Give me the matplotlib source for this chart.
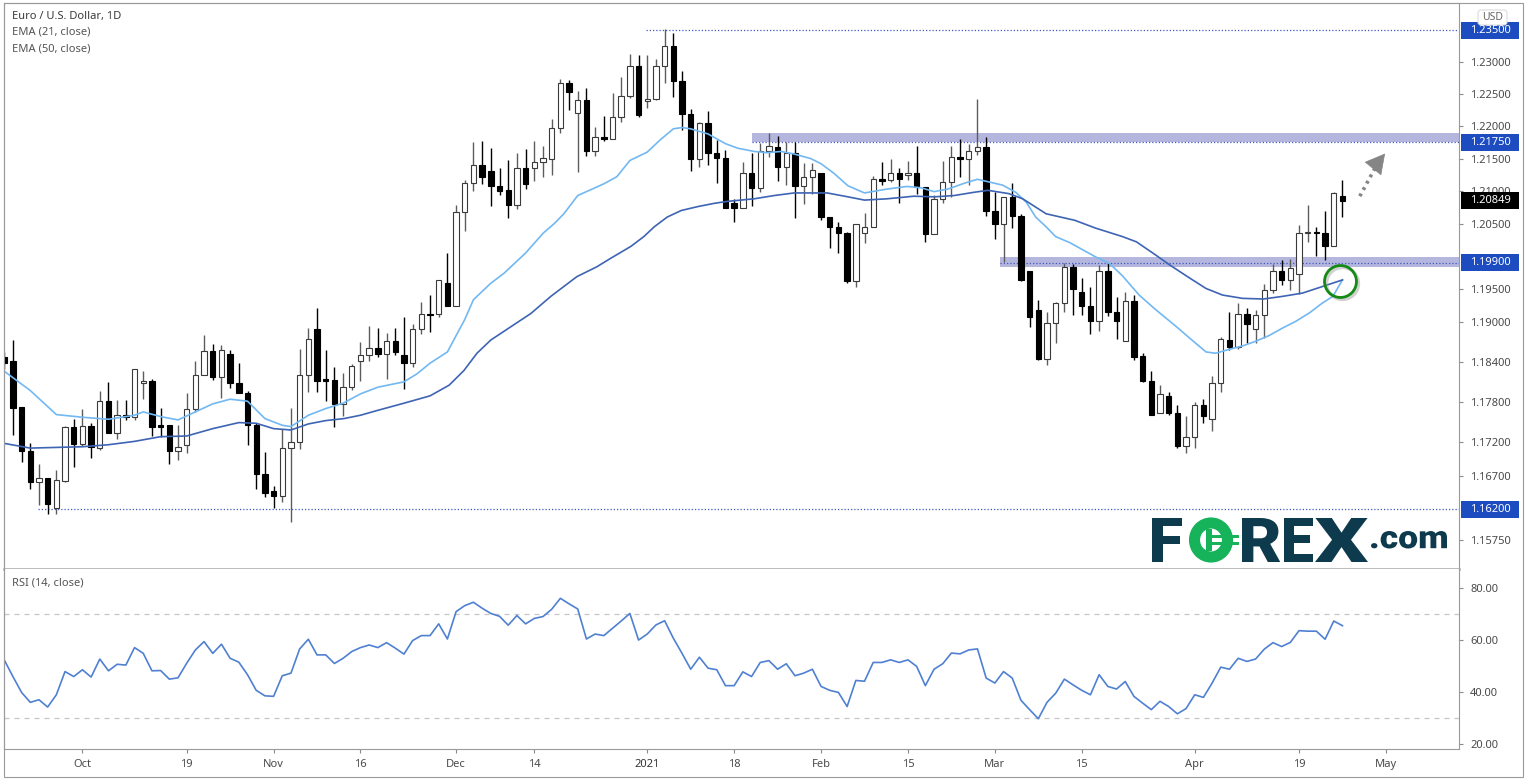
import matplotlib
matplotlib.use("Agg")
import matplotlib.pyplot as plt
import matplotlib.transforms as mtransforms
from matplotlib.patches import Rectangle, FancyBboxPatch, PathPatch, Ellipse
from matplotlib.textpath import TextPath
from matplotlib.font_manager import FontProperties
from matplotlib.ticker import FixedLocator, NullLocator, FuncFormatter, NullFormatter
import numpy as np

# ---- daily EUR/USD candles (bar 0 = 18 Sep 2020) ----
opens = [
    1.1848, 1.1841, 1.1772, 1.1707, 1.1660, 1.1667, 1.1622, 1.1662, 1.1742, 1.1717,
    1.1744, 1.1711, 1.1782, 1.1733, 1.1760, 1.1757, 1.1809, 1.1811, 1.1745, 1.1745,
    1.1707, 1.1715, 1.1769, 1.1821, 1.1857, 1.1817, 1.1852, 1.1808, 1.1794, 1.1746,
    1.1672, 1.1647, 1.1640, 1.1711, 1.1720, 1.1821, 1.1889, 1.1814, 1.1813, 1.1777,
    1.1802, 1.1841, 1.1850, 1.1861, 1.1852, 1.1872, 1.1850, 1.1839, 1.1889, 1.1913,
    1.1913, 1.1960, 1.1924, 1.2067, 1.2113, 1.2140, 1.2131, 1.2107, 1.2101, 1.2078,
    1.2135, 1.2136, 1.2144, 1.2150, 1.2197, 1.2267, 1.2221, 1.2240, 1.2162, 1.2184,
    1.2180, 1.2214, 1.2247, 1.2294, 1.2239, 1.2242, 1.2294, 1.2325, 1.2270, 1.2219,
    1.2150, 1.2205, 1.2158, 1.2151, 1.2082, 1.2074, 1.2128, 1.2104, 1.2161, 1.2168,
    1.2137, 1.2159, 1.2108, 1.2121, 1.2128, 1.2060, 1.2044, 1.2035, 1.1962, 1.2036,
    1.2045, 1.2118, 1.2117, 1.2127, 1.2124, 1.2128, 1.2106, 1.2034, 1.2088, 1.2114,
    1.2152, 1.2150, 1.2161, 1.2168, 1.2070, 1.2049, 1.2090, 1.2062, 1.1978, 1.1919,
    1.1845, 1.1899, 1.1929, 1.1984, 1.1945, 1.1925, 1.1901, 1.1978, 1.1915, 1.1871,
    1.1932, 1.1849, 1.1812, 1.1763, 1.1789, 1.1764, 1.1714, 1.1728, 1.1776, 1.1755,
    1.1809, 1.1873, 1.1862, 1.1913, 1.1889, 1.1911, 1.1948, 1.1978, 1.1964, 1.1973,
    1.2036, 1.2037, 1.2035, 1.2015, 1.2092,
]
highs = [
    1.1855, 1.1873, 1.1773, 1.1718, 1.1687, 1.1667, 1.1679, 1.1744, 1.1755, 1.1770,
    1.1749, 1.1797, 1.1810, 1.1783, 1.1783, 1.1830, 1.1826, 1.1814, 1.1771, 1.1745,
    1.1746, 1.1794, 1.1841, 1.1881, 1.1867, 1.1865, 1.1858, 1.1838, 1.1796, 1.1748,
    1.1705, 1.1655, 1.1739, 1.1771, 1.1859, 1.1891, 1.1921, 1.1858, 1.1833, 1.1823,
    1.1837, 1.1870, 1.1894, 1.1891, 1.1883, 1.1891, 1.1907, 1.1897, 1.1930, 1.1941,
    1.1964, 1.2005, 1.2078, 1.2117, 1.2175, 1.2177, 1.2167, 1.2135, 1.2147, 1.2159,
    1.2164, 1.2177, 1.2170, 1.2211, 1.2273, 1.2272, 1.2255, 1.2259, 1.2199, 1.2216,
    1.2252, 1.2276, 1.2312, 1.2311, 1.2311, 1.2305, 1.2351, 1.2346, 1.2286, 1.2226,
    1.2207, 1.2223, 1.2179, 1.2163, 1.2088, 1.2145, 1.2159, 1.2174, 1.2190, 1.2185,
    1.2176, 1.2176, 1.2143, 1.2143, 1.2128, 1.2060, 1.2053, 1.2037, 1.2050, 1.2066,
    1.2123, 1.2145, 1.2149, 1.2136, 1.2146, 1.2170, 1.2106, 1.2094, 1.2146, 1.2170,
    1.2181, 1.2173, 1.2243, 1.2184, 1.2099, 1.2090, 1.2113, 1.2065, 1.1978, 1.1933,
    1.1916, 1.1931, 1.1990, 1.1989, 1.1967, 1.1954, 1.1986, 1.1990, 1.1938, 1.1946,
    1.1941, 1.1853, 1.1827, 1.1805, 1.1795, 1.1776, 1.1759, 1.1780, 1.1785, 1.1819,
    1.1878, 1.1915, 1.1929, 1.1921, 1.1919, 1.1958, 1.1988, 1.1995, 1.1996, 1.2048,
    1.2079, 1.2044, 1.2070, 1.2098, 1.2117,
]
lows = [
    1.1830, 1.1730, 1.1691, 1.1650, 1.1626, 1.1613, 1.1614, 1.1660, 1.1683, 1.1714,
    1.1696, 1.1708, 1.1733, 1.1725, 1.1753, 1.1753, 1.1785, 1.1729, 1.1728, 1.1688,
    1.1694, 1.1703, 1.1765, 1.1820, 1.1813, 1.1786, 1.1801, 1.1793, 1.1716, 1.1651,
    1.1638, 1.1622, 1.1631, 1.1601, 1.1710, 1.1795, 1.1795, 1.1781, 1.1743, 1.1759,
    1.1798, 1.1812, 1.1842, 1.1848, 1.1815, 1.1850, 1.1800, 1.1833, 1.1882, 1.1885,
    1.1907, 1.1924, 1.1924, 1.2039, 1.2100, 1.2110, 1.2077, 1.2094, 1.2058, 1.2073,
    1.2103, 1.2115, 1.2122, 1.2124, 1.2190, 1.2225, 1.2129, 1.2154, 1.2154, 1.2177,
    1.2180, 1.2207, 1.2244, 1.2215, 1.2228, 1.2240, 1.2267, 1.2245, 1.2194, 1.2131,
    1.2137, 1.2140, 1.2112, 1.2074, 1.2053, 1.2074, 1.2077, 1.2099, 1.2152, 1.2116,
    1.2109, 1.2059, 1.2080, 1.2095, 1.2055, 1.2012, 1.2005, 1.1959, 1.1953, 1.2020,
    1.2045, 1.2109, 1.2114, 1.2081, 1.2117, 1.2096, 1.2022, 1.2034, 1.2082, 1.2091,
    1.2122, 1.2109, 1.2155, 1.2062, 1.2027, 1.1992, 1.2043, 1.1962, 1.1893, 1.1843,
    1.1835, 1.1868, 1.1916, 1.1911, 1.1911, 1.1882, 1.1887, 1.1909, 1.1874, 1.1871,
    1.1843, 1.1810, 1.1761, 1.1763, 1.1760, 1.1711, 1.1703, 1.1711, 1.1749, 1.1736,
    1.1795, 1.1858, 1.1860, 1.1869, 1.1869, 1.1876, 1.1944, 1.1956, 1.1949, 1.1943,
    1.2022, 1.2000, 1.1994, 1.2015, 1.2060,
]
closes = [
    1.1838, 1.1771, 1.1707, 1.1660, 1.1667, 1.1628, 1.1663, 1.1742, 1.1717, 1.1744,
    1.1712, 1.1781, 1.1733, 1.1760, 1.1757, 1.1829, 1.1811, 1.1743, 1.1743, 1.1707,
    1.1713, 1.1769, 1.1821, 1.1857, 1.1818, 1.1858, 1.1808, 1.1793, 1.1746, 1.1672,
    1.1645, 1.1640, 1.1711, 1.1720, 1.1821, 1.1874, 1.1812, 1.1812, 1.1777, 1.1802,
    1.1834, 1.1850, 1.1861, 1.1852, 1.1872, 1.1855, 1.1839, 1.1889, 1.1912, 1.1911,
    1.1964, 1.1924, 1.2068, 1.2113, 1.2140, 1.2121, 1.2107, 1.2100, 1.2078, 1.2135,
    1.2110, 1.2144, 1.2151, 1.2198, 1.2267, 1.2253, 1.2240, 1.2162, 1.2184, 1.2180,
    1.2214, 1.2247, 1.2294, 1.2217, 1.2243, 1.2294, 1.2325, 1.2270, 1.2219, 1.2150,
    1.2205, 1.2158, 1.2151, 1.2074, 1.2074, 1.2128, 1.2104, 1.2161, 1.2170, 1.2137,
    1.2159, 1.2108, 1.2121, 1.2133, 1.2060, 1.2044, 1.2035, 1.1962, 1.2049, 1.2045,
    1.2118, 1.2116, 1.2128, 1.2118, 1.2128, 1.2106, 1.2034, 1.2088, 1.2114, 1.2152,
    1.2150, 1.2161, 1.2168, 1.2070, 1.2049, 1.2090, 1.2062, 1.1964, 1.1908, 1.1845,
    1.1899, 1.1929, 1.1984, 1.1950, 1.1925, 1.1901, 1.1978, 1.1915, 1.1901, 1.1932,
    1.1848, 1.1811, 1.1761, 1.1792, 1.1764, 1.1714, 1.1728, 1.1776, 1.1759, 1.1809,
    1.1874, 1.1862, 1.1913, 1.1897, 1.1911, 1.1948, 1.1978, 1.1964, 1.1982, 1.2036,
    1.2037, 1.2036, 1.2015, 1.2097, 1.2085,
]

# EMA lines, sampled along the drawn curves (bar position, price)
ema21_x = [0, 3, 6, 9, 12, 15, 16, 18, 20, 22, 24, 26, 28, 30, 32, 33, 35, 37, 39, 41,
           43, 46, 47.5, 49, 51, 53, 54, 56, 57.5, 60, 62, 63.3, 64.4, 66, 69, 70.5, 72, 74, 75.5, 77,
           78, 79, 81, 83, 84.4, 86.3, 87.8, 89.4, 90.9, 92.8, 94, 95.5, 97.1, 99, 101.6, 103.9, 105.5,
           107, 108.6, 110.5, 112, 113.3, 114.9, 116.4, 117.6, 118.7, 119.9, 121, 122.6, 124.1,
           125.6, 127.2, 128.7, 130.6, 132.5, 134.9, 136.4, 138.3, 139.4, 141, 142.5, 144, 145.6,
           147.1, 148.6, 150.2, 151.7, 152.9, 154]
ema21 = [1.1826, 1.1797, 1.1761, 1.1757, 1.1754, 1.1760, 1.1765, 1.1758, 1.1753, 1.1765,
         1.1777, 1.1784, 1.1781, 1.1755, 1.1745, 1.1743, 1.1760, 1.1770, 1.1778, 1.1792,
         1.1802, 1.1810, 1.1822, 1.1838, 1.1855, 1.1904, 1.1934, 1.1959, 1.1974, 1.2005,
         1.2035, 1.2050, 1.2065, 1.2093, 1.2111, 1.2122, 1.2147, 1.2160, 1.2179, 1.2196,
         1.2198, 1.2196, 1.2188, 1.2173, 1.2166, 1.2161, 1.2159, 1.2161, 1.2157, 1.2150,
         1.2142, 1.2127, 1.2108, 1.2097, 1.2103, 1.2107, 1.2105, 1.2099, 1.2103, 1.2112,
         1.2118, 1.2114, 1.2109, 1.2098, 1.2083, 1.2060, 1.2045, 1.2030, 1.2021, 1.2010,
         1.1999, 1.1989, 1.1970, 1.1941, 1.1919, 1.1893, 1.1876, 1.1855, 1.1853, 1.1859,
         1.1864, 1.1871, 1.1880, 1.1891, 1.1901, 1.1914, 1.1929, 1.1939, 1.1964]
ema50_x = [0, 3, 6, 9, 12, 15, 18, 21, 24, 27, 29, 31, 33, 35, 37, 39.1, 41, 42.9, 46, 49,
           51.2, 52.9, 54.4, 56, 58.3, 60.6, 62.9, 64.4, 65.9, 68.2, 69.8, 72.1, 73.6, 74.8, 76.3,
           77.9, 79.8, 81.7, 83.2, 86.3, 88.6, 90.9, 93.2, 94.7, 97.1, 99, 101.6, 104.7, 107, 109.3,
           111.6, 113.2, 115.6, 117.2, 119.9, 123.2, 125.6, 128.7, 130.3, 132.5, 134.1, 136.4,
           138.3, 140.2, 142.5, 144.9, 147.1, 149.4, 151.7, 154]
ema50 = [1.1718, 1.1711, 1.1712, 1.1713, 1.1716, 1.1721, 1.1728, 1.1729, 1.1740, 1.1749,
         1.1748, 1.1740, 1.1738, 1.1747, 1.1752, 1.1755, 1.1760, 1.1767, 1.1778, 1.1789,
         1.1805, 1.1827, 1.1853, 1.1873, 1.1893, 1.1913, 1.1939, 1.1954, 1.1969, 1.1984,
         1.1997, 1.2015, 1.2030, 1.2045, 1.2060, 1.2070, 1.2076, 1.2081, 1.2084, 1.2088,
         1.2093, 1.2097, 1.2097, 1.2097, 1.2091, 1.2086, 1.2088, 1.2092, 1.2091, 1.2093,
         1.2098, 1.2101, 1.2096, 1.2088, 1.2065, 1.2055, 1.2043, 1.2030, 1.2022, 1.2002,
         1.1987, 1.1967, 1.1951, 1.1941, 1.1936, 1.1935, 1.1939, 1.1944, 1.1954, 1.1964]

rsi = [
    52.3, 45.9, 39.8, 36.0, 37.0, 34.2, 38.9, 47.8, 45.9, 48.5,
    45.7, 52.6, 48.1, 50.6, 50.3, 57.0, 54.8, 48.1, 48.2, 44.9,
    45.4, 51.0, 56.1, 59.3, 54.8, 58.3, 52.9, 51.4, 46.6, 40.6,
    38.5, 38.3, 46.2, 47.2, 56.5, 60.2, 54.2, 54.2, 50.9, 52.9,
    55.5, 57.0, 58.0, 57.0, 58.9, 56.8, 54.5, 59.7, 61.6, 61.6,
    66.1, 60.3, 70.8, 73.1, 74.4, 72.1, 70.1, 69.0, 65.6, 69.3,
    66.1, 68.2, 68.9, 71.7, 75.9, 73.8, 71.8, 60.3, 62.2, 61.6,
    64.4, 67.2, 70.1, 59.9, 62.2, 65.7, 67.3, 60.6, 54.8, 48.7,
    53.3, 49.1, 48.5, 42.4, 42.4, 47.7, 45.9, 51.3, 52.0, 48.7,
    50.8, 46.2, 47.2, 48.7, 42.1, 40.6, 39.8, 34.4, 44.4, 44.1,
    51.3, 51.3, 52.3, 51.3, 52.3, 49.8, 42.4, 48.7, 50.8, 54.9,
    54.6, 56.1, 56.5, 45.3, 43.4, 47.8, 45.3, 36.8, 33.2, 29.7,
    36.0, 39.5, 44.9, 42.7, 40.6, 38.9, 46.6, 42.1, 41.1, 44.0,
    38.3, 35.7, 33.2, 36.4, 34.4, 31.6, 33.6, 38.9, 37.9, 43.4,
    49.5, 48.7, 52.9, 51.7, 52.6, 56.4, 58.9, 57.4, 59.0, 63.5,
    63.3, 63.3, 60.2, 67.2, 65.4,
]

# axis labels
date_ticks = [9, 21, 31, 41, 52, 61, 74, 84, 94, 104, 114, 124, 137, 149, 159]
date_labels = ["Oct", "19", "Nov", "16", "Dec", "14", "2021", "18", "Feb", "15",
               "Mar", "15", "Apr", "19", "May"]
price_ticks = [1.23, 1.225, 1.22, 1.215, 1.21, 1.205, 1.195, 1.19, 1.184,
               1.178, 1.172, 1.167, 1.1575]
rsi_ticks = [20, 40, 60, 80]

# drawn levels
top_level = 1.2350
bottom_level = 1.1620
resist_zone = (1.2175, 1.2189)
support_level = 1.1990
support_zone = (1.1983, 1.1999)
last_price = 1.20849

W, H = 1527, 780
X0, DX = 4.2, 8.69  # pixel of bar 0 and pixel step per bar


def px_rect(x0, y0, x1, y1):
    return [x0 / W, 1 - y1 / H, (x1 - x0) / W, (y1 - y0) / H]


plt.rcParams["font.family"] = ["Noto Sans", "DejaVu Sans"]
fig = plt.figure(figsize=(W / 100, H / 100), dpi=100)
ax = fig.add_axes(px_rect(4, 3, 1459, 569))
rsi_ax = fig.add_axes(px_rect(4, 569, 1459, 749), sharex=ax)

idx = np.arange(len(closes))
o, h, l, c = (np.array(v) for v in (opens, highs, lows, closes))
up = c >= o
body_lo = np.minimum(o, c)
body_h = np.maximum(np.abs(c - o), 0.00006)

ax.set_yscale("log")
ax.set_xlim((4 - X0) / DX, (1459 - X0) / DX)
ax.set_ylim(1.15324, 1.23926)
xmax = ax.get_xlim()[1]

# zones and levels
ax.fill_between([86.0, xmax], *resist_zone, color="#b4b6dd", lw=0, zorder=1)
ax.fill_between([114.6, xmax], *support_zone, color="#b4b6dd", lw=0, zorder=1)
dot = dict(color="#4157c0", lw=0.9, ls=(0, (1, 1.6)), zorder=1.5)
ax.hlines(resist_zone[0], 86.0, xmax, **dot)
ax.hlines(support_level, 114.6, xmax, **dot)
ax.hlines(top_level, 73.9, xmax, **dot)
ax.hlines(bottom_level, 3.9, xmax, **dot)

# candles
ax.vlines(idx[up], l[up], h[up], color="#5c5c5c", lw=1.0, zorder=2)
ax.vlines(idx[~up], l[~up], h[~up], color="#000000", lw=1.0, zorder=2)
ax.bar(idx[up], body_h[up], bottom=body_lo[up], width=0.62, color="white",
       edgecolor="#3a3a3a", linewidth=0.8, zorder=3)
ax.bar(idx[~up], body_h[~up], bottom=body_lo[~up], width=0.62, color="black",
       edgecolor="black", linewidth=0.8, zorder=3)

ax.plot(ema21_x, ema21, color="#72b8f2", lw=1.2, zorder=4)
ax.plot(ema50_x, ema50, color="#3e64b4", lw=1.2, zorder=4)

# EMA cross highlight
shadow = mtransforms.offset_copy(ax.transData, fig=fig, x=2, y=-2, units="dots")
ax.plot([153.75], [1.1962], marker="o", ms=23, mfc="none", mec="#9a9a9a",
        mew=2.4, alpha=0.45, transform=shadow, zorder=5, clip_on=False)
ax.plot([153.75], [1.1962], marker="o", ms=23, mfc="none", mec="#138a13",
        mew=2.0, zorder=6, clip_on=False)

# dotted arrow up
ax.plot([156.0, 158.1], [1.2092, 1.2144], color="#858585", lw=2.6,
        ls=(0, (0.8, 1.2)), zorder=5)
ax.annotate("", xy=(159.1, 1.2161), xytext=(157.9, 1.2141),
            arrowprops=dict(arrowstyle="-|>,head_length=1.1,head_width=0.6",
                            color="#858585", lw=0.5, mutation_scale=12), zorder=5)

# price axis
ax.yaxis.tick_right()
ax.yaxis.set_major_locator(FixedLocator(price_ticks))
ax.yaxis.set_minor_locator(NullLocator())
ax.yaxis.set_minor_formatter(NullFormatter())
ax.yaxis.set_major_formatter(FuncFormatter(lambda v, p: f"{v:.5f}"))
ax.tick_params(axis="y", direction="out", length=3, width=0.8, color="#8a8a8a",
               labelsize=8, labelcolor="#4a4a4a", pad=5)
ax.tick_params(axis="x", bottom=False, labelbottom=False)

# rsi pane
rsi_ax.plot(idx, rsi, color="#4f80d2", lw=1.2, zorder=3)
for lvl in (70, 30):
    rsi_ax.axhline(lvl, color="#c6c6c6", lw=0.9, ls=(0, (4, 4)), zorder=1)
rsi_ax.set_ylim(18.1, 87.15)
rsi_ax.yaxis.tick_right()
rsi_ax.set_yticks(rsi_ticks)
rsi_ax.yaxis.set_major_formatter(FuncFormatter(lambda v, p: f"{v:.2f}"))
rsi_ax.tick_params(axis="y", direction="out", length=3, width=0.8, color="#8a8a8a",
                   labelsize=8, labelcolor="#4a4a4a", pad=5)
rsi_ax.set_xticks(date_ticks)
rsi_ax.set_xticklabels(date_labels)
rsi_ax.tick_params(axis="x", direction="out", length=3, width=0.8, color="#8a8a8a",
                   labelsize=8, labelcolor="#4a4a4a", pad=4)
for t in rsi_ax.get_xticklabels():
    if t.get_text() == "2021":
        t.set_fontweight("bold")
        t.set_color("#333333")

for a in (ax, rsi_ax):
    for s in a.spines.values():
        s.set_color("#9a9a9a")
        s.set_linewidth(0.8)
ax.spines["bottom"].set_color("#a8a8a8")
ax.spines["bottom"].set_linewidth(1.8)
rsi_ax.spines["top"].set_visible(False)

ident = mtransforms.IdentityTransform()
fig.patches.append(Rectangle((4, H - 777), 1519, 774, transform=ident, fill=False,
                             ec="#9a9a9a", lw=0.8, zorder=1))


def price_tag(val, text, fc):
    fig.canvas.draw()
    yd = ax.transData.transform((0, val))[1]
    fig.patches.append(Rectangle((1461, yd - 8.5), 58, 17, transform=ident,
                                 fc=fc, ec="none", zorder=5))
    fig.text(1490, yd, text, transform=ident, ha="center", va="center",
             fontsize=8, color="white", zorder=6)


price_tag(top_level, "1.23500", "#1c4cc0")
price_tag(resist_zone[0], "1.21750", "#1c4cc0")
price_tag(last_price, "1.20849", "#000000")
price_tag(support_level, "1.19900", "#1c4cc0")
price_tag(bottom_level, "1.16200", "#1c4cc0")

# currency box
fig.patches.append(FancyBboxPatch((1478, H - 25), 29, 15, transform=ident,
                                  boxstyle="round,pad=0,rounding_size=3",
                                  fc="white", ec="#dcdcdc", lw=0.8, zorder=5))
fig.text(1492.5, H - 17.5, "USD", transform=ident, ha="center", va="center",
         fontsize=7.5, color="#666666", zorder=6)

# legends
fig.text(12, H - 16, "Euro / U.S. Dollar, 1D", transform=ident, va="center",
         fontsize=8, fontweight="bold", color="#3a3a3a")
fig.text(12, H - 32.5, "EMA (21, close)", transform=ident, va="center",
         fontsize=8, color="#555555")
fig.text(12, H - 49, "EMA (50, close)", transform=ident, va="center",
         fontsize=8, color="#555555")
fig.text(12, H - 583, "RSI (14, close)", transform=ident, va="center",
         fontsize=8, color="#555555")

# FOREX.com logo: glyph outlines fitted into boxes measured on the picture
logo_dark, logo_green = "#0d3b4d", "#16b35b"
logo_font = FontProperties(family=["Roboto", "DejaVu Sans"], weight="black")


def glyph(s, x0, x1, ytop, ybot, color):
    tp = TextPath((0, 0), s, size=100, prop=logo_font)
    bb = tp.get_extents()
    tr = (mtransforms.Affine2D().translate(-bb.x0, -bb.y0)
          .scale((x1 - x0) / bb.width, (ybot - ytop) / bb.height)
          .translate(x0, H - ybot))
    fig.patches.append(PathPatch(tp, transform=tr, fc=color, ec="none", zorder=5))


glyph("F", 1152, 1182, 518, 562, logo_dark)
glyph("R", 1242, 1280, 518, 562, logo_dark)
glyph("E", 1284, 1313, 518, 562, logo_dark)
glyph("X", 1315, 1368, 518, 562, logo_dark)
glyph(".com", 1371, 1447, 531, 548.5, logo_dark)
fig.patches.append(Ellipse((1211, H - 540), 33, 34, transform=ident, fill=False,
                           ec=logo_green, lw=8.0, zorder=5))
fig.patches.append(Rectangle((1206, H - 551), 6, 22, transform=ident,
                             fc=logo_green, ec="none", zorder=5))
for yy in (534.5, 542):
    fig.patches.append(Rectangle((1210, H - yy - 3), 29, 3, transform=ident,
                                 fc=logo_green, ec="none", zorder=5))

fig.savefig("out.png", dpi=100)
